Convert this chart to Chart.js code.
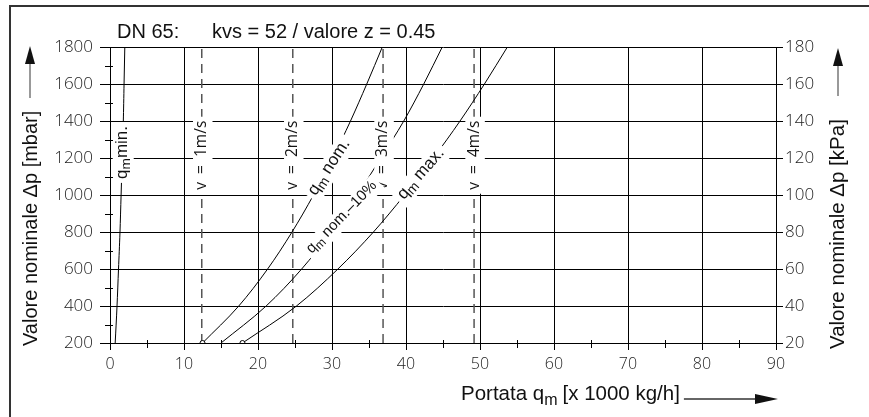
<!DOCTYPE html>
<html>
<head>
<meta charset="utf-8">
<script src="https://cdn.jsdelivr.net/npm/chart.js@4.4.0/dist/chart.umd.min.js"></script>
<style>
  html, body { margin: 0; padding: 0; background: #fff; }
</style>
</head>
<body>
<canvas id="chart" width="869" height="417"></canvas>
<script>
// pressure drop levels (mbar) at which the curves were read
const dpLevels = [200, 400, 600, 800, 1000, 1200, 1400, 1600, 1800];
// flow (x 1000 kg/h) at those levels
const qmMin   = [0.7, 0.95, 1.15, 1.35, 1.5, 1.65, 1.8, 1.9, 2.0];
const qmNom   = [12.5, 17.4, 21.3, 24.6, 27.5, 30.1, 32.5, 34.7, 36.8];
const qmNom10 = [15.0, 21.1, 25.9, 29.9, 33.4, 36.6, 39.7, 42.4, 44.9];
const qmMax   = [17.9, 25.2, 30.8, 35.6, 39.8, 43.7, 47.3, 50.6, 53.7];
// velocity lines
const velocities   = ['1m/s', '2m/s', '3m/s', '4m/s'];
const velocityFlow = [12.4, 24.7, 36.9, 49.2];

const toPoints = qs => qs.map((q, i) => ({ x: q, y: dpLevels[i] }));
const thinFont = "'Open Sans', 'DejaVu Sans', sans-serif";
const textFont = "'Liberation Sans', Arial, sans-serif";

function curve(qs, marker) {
    return {
        data: toPoints(qs),
        borderColor: '#000',
        borderWidth: 1,
        cubicInterpolationMode: 'monotone',
        pointRadius: qs.map((q, i) => (marker && i === 0 ? 2.5 : 0)),
        pointBackgroundColor: '#fff',
        pointBorderColor: '#000',
        pointBorderWidth: 1
    };
}

const datasets = [curve(qmMin), curve(qmNom, true), curve(qmNom10), curve(qmMax, true)];
velocityFlow.forEach(q => {
    datasets.push({
        data: [{ x: q, y: 200 }, { x: q, y: 1800 }],
        borderColor: '#555',
        borderWidth: 1.5,
        borderDash: [9, 6],
        pointRadius: 0
    });
});

// labels sitting on the curves (parts: [text, isSubscript])
const curveLabels = [
    { parts: [['q', 0], ['m', 1], ['min.', 0]], q: 1.65, dp: 1230, angle: -90, size: 17 },
    { parts: [['q', 0], ['m', 1], [' nom.', 0]], q: 29.6, dp: 1150, angle: -57, size: 17 },
    { parts: [['q', 0], ['m', 1], [' nom.\u201310%', 0]], q: 31.3, dp: 880, angle: -46, size: 15 },
    { parts: [['q', 0], ['m', 1], [' max.', 0]], q: 42.0, dp: 1115, angle: -49, size: 17 }
];

function drawRich(ctx, parts, size, family, weight) {
    const font = s => (weight || 400) + ' ' + s + 'px ' + family;
    const widths = parts.map(p => {
        ctx.font = font(p[1] ? size * 0.8 : size);
        return ctx.measureText(p[0]).width;
    });
    const total = widths.reduce((a, b) => a + b, 0);
    ctx.fillStyle = '#fff';
    ctx.fillRect(-total / 2 - 4, -size / 2 - 1, total + 8, size + 4);
    ctx.fillStyle = '#111';
    ctx.textBaseline = 'middle';
    ctx.textAlign = 'left';
    let x = -total / 2;
    parts.forEach((p, i) => {
        ctx.font = font(p[1] ? size * 0.8 : size);
        ctx.fillText(p[0], x, p[1] ? size * 0.25 : 0);
        x += widths[i];
    });
}

const labelsPlugin = {
    id: 'curveLabels',
    afterDatasetsDraw(chart) {
        const { ctx, scales: { x, y } } = chart;
        velocities.forEach((v, i) => {
            ctx.save();
            ctx.translate(x.getPixelForValue(velocityFlow[i]), y.getPixelForValue(1215));
            ctx.rotate(-Math.PI / 2);
            drawRich(ctx, [['v  =  ' + v, 0]], 15.5, thinFont, 400);
            ctx.restore();
        });
        curveLabels.forEach(l => {
            ctx.save();
            ctx.translate(x.getPixelForValue(l.q), y.getPixelForValue(l.dp));
            ctx.rotate(l.angle * Math.PI / 180);
            drawRich(ctx, l.parts, l.size, textFont);
            ctx.restore();
        });
    }
};

function arrowUp(ctx, cx, tip, base, lineEnd) {
    ctx.strokeStyle = '#777';
    ctx.lineWidth = 1.5;
    ctx.beginPath();
    ctx.moveTo(cx, lineEnd);
    ctx.lineTo(cx, base);
    ctx.stroke();
    ctx.fillStyle = '#111';
    ctx.beginPath();
    ctx.moveTo(cx, tip);
    ctx.lineTo(cx - 5, base);
    ctx.lineTo(cx + 5, base);
    ctx.closePath();
    ctx.fill();
}

const decorPlugin = {
    id: 'decor',
    afterDraw(chart) {
        const { ctx, scales: { x, y } } = chart;
        const area = chart.chartArea;
        ctx.save();
        // frame
        ctx.strokeStyle = '#333';
        ctx.lineWidth = 2;
        ctx.beginPath();
        ctx.moveTo(10, 417);
        ctx.lineTo(10, 6);
        ctx.lineTo(869, 6);
        ctx.stroke();

        // minor ticks
        ctx.strokeStyle = '#000';
        ctx.lineWidth = 1;
        ctx.beginPath();
        for (let q = 5; q < 90; q += 10) {
            const px = Math.round(x.getPixelForValue(q)) + 0.5;
            ctx.moveTo(px, area.bottom - 3);
            ctx.lineTo(px, area.bottom + 5);
        }
        for (let dp = 300; dp < 1800; dp += 200) {
            const py = Math.round(y.getPixelForValue(dp)) + 0.5;
            ctx.moveTo(area.left - 5, py);
            ctx.lineTo(area.left + 3, py);
        }
        ctx.stroke();

        // title
        ctx.fillStyle = '#111';
        ctx.font = '20px ' + textFont;
        ctx.textBaseline = 'alphabetic';
        ctx.textAlign = 'left';
        ctx.fillText('DN 65:', 117, 38);
        ctx.fillText('kvs = 52 / valore z = 0.45', 212, 38);

        // left axis title
        ctx.save();
        ctx.translate(31, 346);
        ctx.rotate(-Math.PI / 2);
        ctx.font = '20px ' + textFont;
        ctx.textBaseline = 'middle';
        ctx.fillText('Valore nominale \u0394p [mbar]', 0, 0);
        ctx.restore();
        arrowUp(ctx, 30, 46, 64, 98);

        // right axis title
        ctx.save();
        ctx.translate(838, 349);
        ctx.rotate(-Math.PI / 2);
        ctx.font = '20.5px ' + textFont;
        ctx.textBaseline = 'middle';
        ctx.fillText('Valore nominale \u0394p [kPa]', 0, 0);
        ctx.restore();
        arrowUp(ctx, 838, 48, 66, 96);

        // bottom axis title
        ctx.font = '20.5px ' + textFont;
        ctx.textBaseline = 'alphabetic';
        let tx = 461;
        ctx.fillText('Portata q', tx, 400);
        tx += ctx.measureText('Portata q').width;
        ctx.font = '16px ' + textFont;
        ctx.fillText('m', tx, 405);
        tx += ctx.measureText('m').width + 5;
        ctx.font = '20.5px ' + textFont;
        ctx.fillText('[x 1000 kg/h]', tx, 400);
        tx += ctx.measureText('[x 1000 kg/h]').width + 4;
        ctx.strokeStyle = '#333';
        ctx.lineWidth = 1.5;
        ctx.beginPath();
        ctx.moveTo(tx, 399);
        ctx.lineTo(756, 399);
        ctx.stroke();
        ctx.fillStyle = '#111';
        ctx.beginPath();
        ctx.moveTo(778, 399);
        ctx.lineTo(755, 394);
        ctx.lineTo(755, 404);
        ctx.closePath();
        ctx.fill();
        ctx.restore();
    }
};

const plain = v => String(v);

new Chart(document.getElementById('chart').getContext('2d'), {
    type: 'line',
    data: { datasets: datasets },
    options: {
        responsive: false,
        animation: false,
        layout: { padding: { left: 10, top: 47, right: 0, bottom: 0 } },
        plugins: { legend: { display: false }, tooltip: { enabled: false } },
        scales: {
            x: {
                type: 'linear',
                min: 0,
                max: 90,
                ticks: { stepSize: 10, color: '#222', padding: 5, maxRotation: 0, callback: plain,
                         font: { family: thinFont, size: 16, weight: 300 } },
                grid: { color: '#000', lineWidth: 1, tickLength: 7, tickColor: '#000' },
                border: { color: '#000' },
                afterFit: s => { s.height = 74; }
            },
            y: {
                min: 200,
                max: 1800,
                ticks: { stepSize: 200, color: '#222', padding: 7, callback: plain,
                         font: { family: thinFont, size: 17, weight: 300 } },
                grid: { color: '#000', lineWidth: 1, tickLength: 10, tickColor: '#000' },
                border: { color: '#000' },
                afterFit: s => { s.width = 100; }
            },
            y2: {
                position: 'right',
                min: 20,
                max: 180,
                ticks: { stepSize: 20, color: '#222', padding: 2, callback: plain,
                         font: { family: thinFont, size: 17, weight: 300 } },
                grid: { drawOnChartArea: false, tickLength: 7, tickColor: '#000' },
                border: { color: '#000' },
                afterFit: s => { s.width = 93; }
            }
        }
    },
    plugins: [labelsPlugin, decorPlugin]
});
</script>
</body>
</html>
